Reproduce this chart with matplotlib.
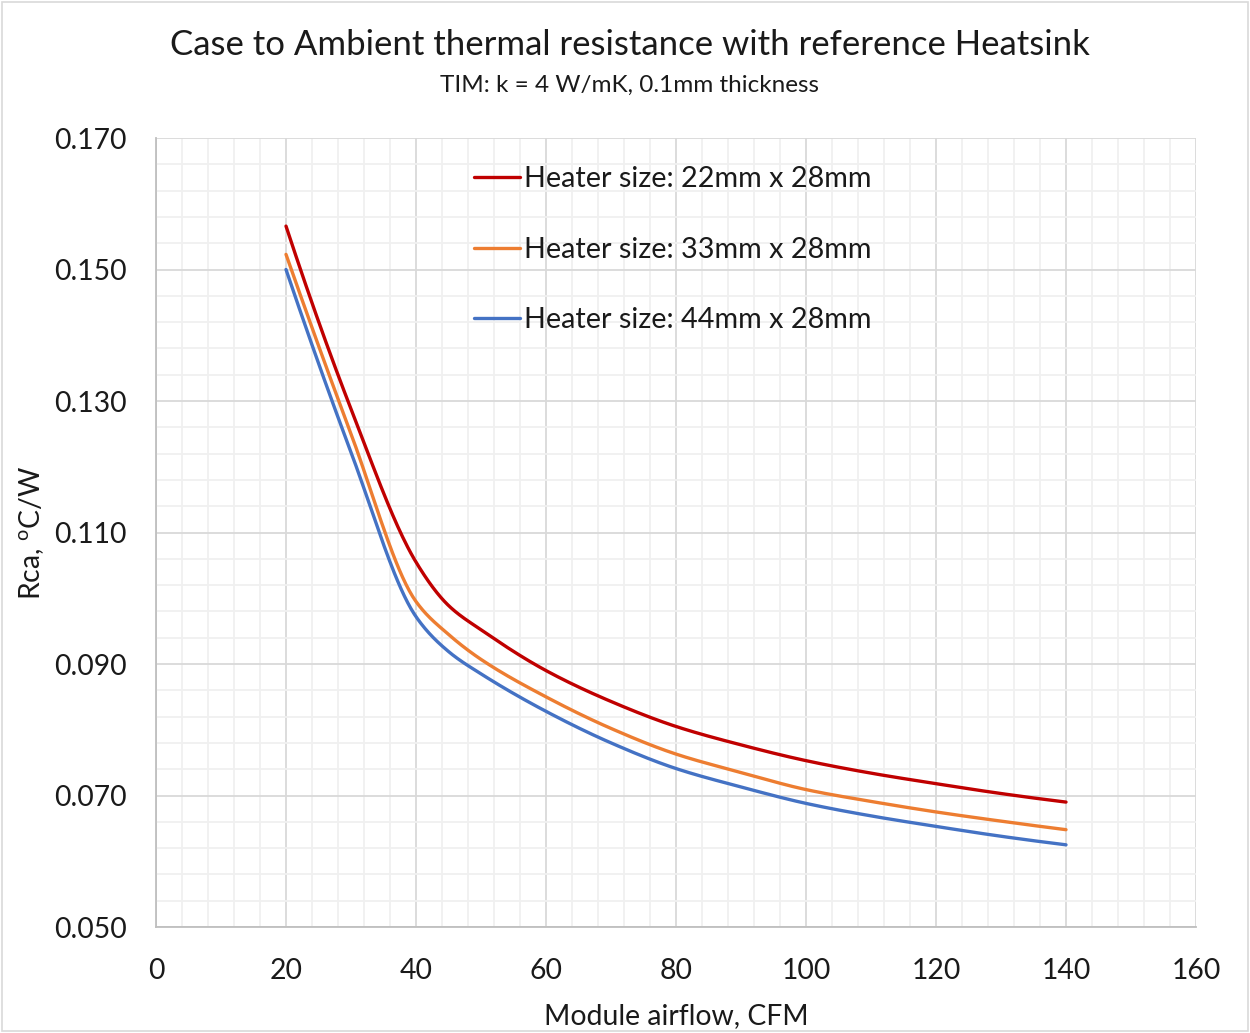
import numpy as np
import matplotlib
matplotlib.use("Agg")
import matplotlib.pyplot as plt
from matplotlib.ticker import FixedLocator, FormatStrFormatter
from matplotlib.patches import Rectangle

airflow = [20, 30, 40, 45, 50, 60, 70, 80, 90, 100, 110, 120, 130, 140]
rca_22 = [0.1566, 0.1288, 0.1055, 0.0989, 0.0952, 0.0890, 0.0843, 0.0805, 0.0777, 0.0753, 0.0734, 0.0718, 0.0703, 0.0690]
rca_33 = [0.1523, 0.1250, 0.0995, 0.0945, 0.0907, 0.0850, 0.0802, 0.0763, 0.0735, 0.0709, 0.0691, 0.0675, 0.0661, 0.0648]
rca_44 = [0.1500, 0.1222, 0.0972, 0.0919, 0.0885, 0.0828, 0.0780, 0.0741, 0.0713, 0.0688, 0.0669, 0.0653, 0.0638, 0.0625]
labels = ["Heater size: 22mm x 28mm", "Heater size: 33mm x 28mm", "Heater size: 44mm x 28mm"]
colors = ["#C00000", "#ED7D31", "#4472C4"]

x_ticks = [0, 20, 40, 60, 80, 100, 120, 140, 160]
y_ticks = [0.050, 0.070, 0.090, 0.110, 0.130, 0.150, 0.170]
xlim = (x_ticks[0], x_ticks[-1])
ylim = (y_ticks[0], y_ticks[-1])

plt.rcParams['font.family'] = ['Lato', 'DejaVu Sans']

fig = plt.figure(figsize=(12.5, 10.33), dpi=100)
ax = fig.add_axes([156/1250, 1-927/1033, (1196-156)/1250, (927-138)/1033])


def smooth(xs, ys, n=40):
    # monotone piecewise cubic Hermite (Fritsch-Carlson) curve through the data points
    x = np.asarray(xs, float)
    y = np.asarray(ys, float)
    h = np.diff(x)
    d = np.diff(y) / h
    m = np.zeros_like(y)
    for k in range(1, len(x) - 1):
        if d[k-1] * d[k] > 0:
            w1 = 2 * h[k] + h[k-1]
            w2 = h[k] + 2 * h[k-1]
            m[k] = (w1 + w2) / (w1 / d[k-1] + w2 / d[k])
    m[0] = ((2 * h[0] + h[1]) * d[0] - h[0] * d[1]) / (h[0] + h[1])
    m[-1] = ((2 * h[-1] + h[-2]) * d[-1] - h[-1] * d[-2]) / (h[-1] + h[-2])
    sx, sy = [], []
    for k in range(len(x) - 1):
        t = np.linspace(0, 1, n)
        if k > 0:
            t = t[1:]
        h00 = 2*t**3 - 3*t**2 + 1
        h10 = t**3 - 2*t**2 + t
        h01 = -2*t**3 + 3*t**2
        h11 = t**3 - t**2
        sx.append(x[k] + t * h[k])
        sy.append(h00*y[k] + h10*h[k]*m[k] + h01*y[k+1] + h11*h[k]*m[k+1])
    return np.concatenate(sx), np.concatenate(sy)


for ys, lab, c in zip([rca_22, rca_33, rca_44], labels, colors):
    sx, sy = smooth(airflow, ys)
    ax.plot(sx, sy, color=c, lw=2.4, label=lab, solid_capstyle='round', zorder=3)

ax.set_xlim(*xlim)
ax.set_ylim(*ylim)
ax.xaxis.set_major_locator(FixedLocator(x_ticks))
ax.xaxis.set_minor_locator(FixedLocator(np.arange(xlim[0], xlim[1] + 1e-9, 4)))
ax.yaxis.set_major_locator(FixedLocator(y_ticks))
ax.yaxis.set_minor_locator(FixedLocator(np.arange(ylim[0], ylim[1] + 1e-9, 0.004)))
ax.yaxis.set_major_formatter(FormatStrFormatter('%.3f'))
ax.grid(which='major', color='#d9d9d9', lw=1.3, zorder=1)
ax.grid(which='minor', color='#f0f0f0', lw=1.3, zorder=0)
ax.set_axisbelow(True)
for s in ['top', 'right']:
    ax.spines[s].set_visible(False)
for s in ['left', 'bottom']:
    ax.spines[s].set_color('#bfbfbf')
    ax.spines[s].set_linewidth(1.3)
ax.tick_params(which='both', length=0, labelsize=20.4, colors='#1a1a1a')
ax.tick_params(axis='y', pad=21)
ax.tick_params(axis='x', pad=22)

ax.set_xlabel("Module airflow, CFM", fontsize=20.4, color='#1a1a1a', labelpad=14)
ax.set_ylabel("Rca, $^{\\mathregular{o}}$C/W", fontsize=20.4, color='#1a1a1a', labelpad=5)

fig.text(630/1250, 1-45/1033, "Case to Ambient thermal resistance with reference Heatsink",
         ha='center', va='center', fontsize=25, color='#1a1a1a')
fig.text(630/1250, 1-85/1033, "TIM: k = 4 W/mK, 0.1mm thickness",
         ha='center', va='center', fontsize=17.5, color='#1a1a1a')

leg = ax.legend(loc='upper left', bbox_to_anchor=(318/1040, 1-28/789), frameon=False,
                fontsize=20.7, handlelength=1.6, handletextpad=0.14, labelspacing=1.55,
                borderaxespad=0, borderpad=0)
for t in leg.get_texts():
    t.set_color('#1a1a1a')

fig.patches.append(Rectangle((2/1250, 2/1033), 1-4/1250, 1-4/1033, transform=fig.transFigure,
                             fill=False, edgecolor='#d9d9d9', lw=1.2))

fig.savefig("out.png", dpi=100)
